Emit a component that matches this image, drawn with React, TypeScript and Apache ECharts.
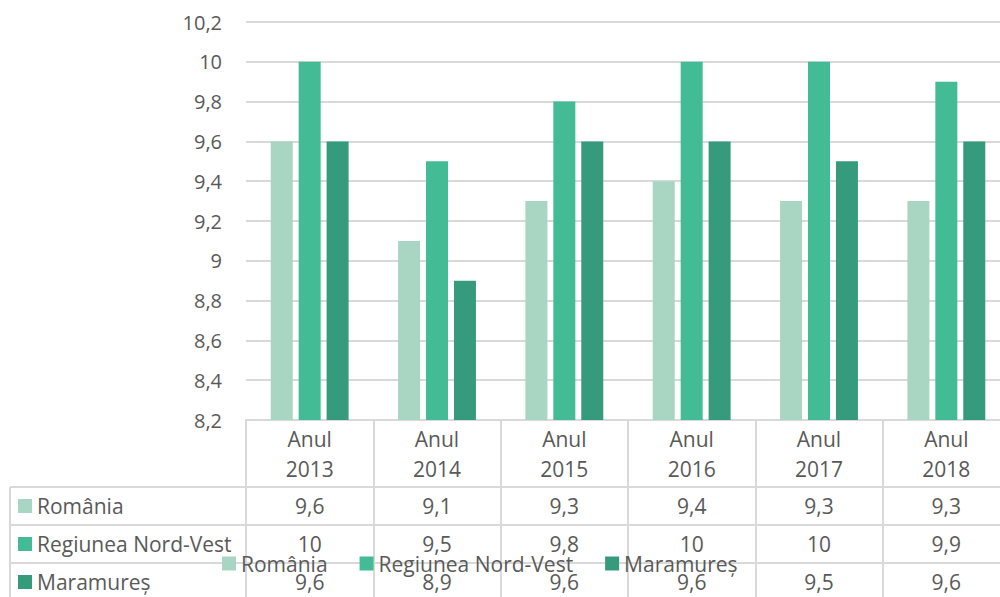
import React, { useEffect, useRef } from "react";
import * as echarts from "echarts";

const categories = ["Anul 2013", "Anul 2014", "Anul 2015", "Anul 2016", "Anul 2017", "Anul 2018"];
const seriesNames = ["România", "Regiunea Nord-Vest", "Maramureș"];
const romania = [9.6, 9.1, 9.3, 9.4, 9.3, 9.3];
const nordVest = [10, 9.5, 9.8, 10, 10, 9.9];
const maramures = [9.6, 8.9, 9.6, 9.6, 9.5, 9.6];
const seriesValues = [romania, nordVest, maramures];
const colors = ["#a8d6c3", "#43bb95", "#359b7c"];
const yMin = 8.2;
const yMax = 10.2;
const yStep = 0.2;

const fmt = (v: number) => String(Math.round(v * 10) / 10).replace(".", ",");

export default function App() {
  const ref = useRef<HTMLDivElement>(null);
  useEffect(() => {
    if (!ref.current) return;
    const chart = echarts.init(ref.current, null, { renderer: "svg" });
    const font = "'Open Sans', sans-serif";
    const textColor = "#595959";
    const lineColor = "#d9d9d9";
    const gridLeft = 246;
    const gridTop = 22;
    const gridHeight = 398;
    const gridBottomY = gridTop + gridHeight;
    const headerH = 67;
    const rowH = 38;
    const fontSize = 21;

    const xAxes: any[] = [
      {
        type: "category",
        data: categories,
        position: "bottom",
        axisLine: { show: true, lineStyle: { color: lineColor, width: 2 } },
        axisTick: { show: true, interval: 0, length: headerH, lineStyle: { color: lineColor, width: 2 } },
        axisLabel: {
          interval: 0,
          formatter: (v: string) => v.replace(" ", "\n"),
          color: textColor,
          fontSize,
          fontFamily: font,
          lineHeight: 30,
          margin: 4,
        },
      },
    ];
    seriesValues.forEach((vals, k) => {
      xAxes.push({
        type: "category",
        data: categories,
        position: "bottom",
        offset: headerH + k * rowH,
        axisLine: { show: true, lineStyle: { color: lineColor, width: 2 } },
        axisTick: { show: true, interval: 0, length: rowH, lineStyle: { color: lineColor, width: 2 } },
        axisLabel: {
          interval: 0,
          formatter: (_v: string, idx: number) => fmt(vals[idx]),
          color: textColor,
          fontSize,
          fontFamily: font,
          lineHeight: 20,
          margin: 9,
        },
      });
    });

    const graphics: any[] = [];
    seriesNames.forEach((name, k) => {
      const top = gridBottomY + headerH + k * rowH;
      graphics.push({
        type: "line",
        shape: { x1: 10, y1: top, x2: gridLeft, y2: top },
        style: { stroke: lineColor, lineWidth: 2 },
      });
      graphics.push({
        type: "rect",
        shape: { x: 18, y: top + (rowH - 14) / 2, width: 14, height: 14 },
        style: { fill: colors[k] },
      });
      graphics.push({
        type: "text",
        x: 37,
        y: top + rowH / 2,
        style: {
          text: name,
          fill: textColor,
          font: `${fontSize}px ${font}`,
          verticalAlign: "middle",
          align: "left",
        },
      });
    });
    graphics.push({
      type: "line",
      shape: { x1: 10, y1: gridBottomY + headerH, x2: 10, y2: gridBottomY + headerH + 3 * rowH },
      style: { stroke: lineColor, lineWidth: 2 },
    });

    chart.setOption({
      animation: false,
      grid: { left: gridLeft, top: gridTop, width: 764, height: gridHeight, containLabel: false },
      legend: {
        data: seriesNames,
        left: 217,
        top: 548,
        icon: "rect",
        itemWidth: 14,
        itemHeight: 14,
        itemGap: 32,
        textStyle: { fontSize, color: textColor, fontFamily: font, lineHeight: 20 },
      },
      xAxis: xAxes,
      yAxis: {
        type: "value",
        min: yMin,
        max: yMax,
        interval: yStep,
        axisLine: { show: false },
        axisTick: { show: false },
        splitLine: { lineStyle: { color: lineColor, width: 2 } },
        axisLabel: {
          formatter: (v: number) => fmt(v),
          color: textColor,
          fontSize: 20,
          fontFamily: font,
          margin: 24,
        },
      },
      series: seriesNames.map((name, k) => ({
        name,
        type: "bar",
        xAxisIndex: 0,
        data: seriesValues[k],
        barWidth: 22,
        barGap: "27%",
        itemStyle: { color: colors[k] },
      })),
      graphic: graphics,
    });
    return () => chart.dispose();
  }, []);
  return (
    <div style={{ position: "fixed", left: 0, top: 0, width: 1000, height: 597, overflow: "hidden", background: "#fff" }}>
      <div ref={ref} style={{ width: 1012, height: 597 }} />
    </div>
  );
}
